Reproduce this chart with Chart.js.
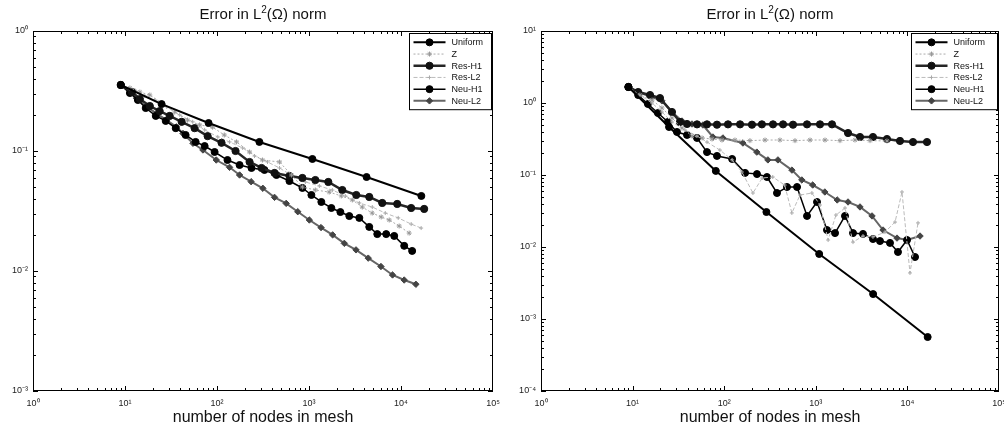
<!DOCTYPE html>
<html><head><meta charset="utf-8">
<script src="https://cdn.jsdelivr.net/npm/chart.js@4.4.0/dist/chart.umd.min.js"></script>
<style>
html,body{margin:0;padding:0;background:#fff;overflow:hidden;width:1004px;height:434px;}
.wrap{position:absolute;top:0;width:502px;height:434px;}
.title{position:absolute;top:5px;font:15px "Liberation Sans",Arial,sans-serif;line-height:17px;color:#111;white-space:nowrap;transform:translateX(-50%);}
.title sup{font-size:10px;line-height:0;vertical-align:6px;}
</style></head><body>
<div class="wrap" style="left:0"><canvas id="c1" width="502" height="434"></canvas></div>
<div class="wrap" style="left:502px"><canvas id="c2" width="502" height="434"></canvas></div>
<div class="title" style="left:263px">Error in L<sup>2</sup>(Ω) norm</div>
<div class="title" style="left:770px">Error in L<sup>2</sup>(Ω) norm</div>
<script>
// ---------- data ----------
const seriesNames = ['Uniform','Z','Res-H1','Res-L2','Neu-H1','Neu-L2'];
const xTickValues = [1,10,100,1000,10000,100000];
const leftYTickValues = [0.001,0.01,0.1,1];
const rightYTickValues = [0.0001,0.001,0.01,0.1,1,10];

const uniformNodes = [9,25,81,289,1089,4225,16641];
const leftUniformErr = [0.355,0.246,0.171,0.119,0.0858,0.0607,0.0422];
const rightUniformErr = [1.67,0.464,0.114,0.0306,0.0080,0.00222,0.000562];

// left panel
const leftZNodes = [9,11.3,14.5,18.6,25.1,34.7,47.8,64.7,89.5,120,163,226,312,478,646,848,1172,1658,2245,2957,3795,4866,6095,7447,9550,12270];
const leftZErr = [0.355,0.335,0.310,0.293,0.251,0.211,0.181,0.165,0.158,0.136,0.119,0.0981,0.0841,0.0810,0.0631,0.0501,0.0473,0.0455,0.0422,0.0391,0.0341,0.0304,0.0282,0.0266,0.0237,0.0207];
const leftResH1Nodes = [9,11.9,14.5,18.6,23.8,30.6,41.3,57.1,79.1,112,159,226,305,422,613,848,1172,1622,2302,3266,4519,6252,9095,12900,17860];
const leftResH1Err = [0.355,0.310,0.271,0.237,0.215,0.196,0.175,0.155,0.133,0.117,0.100,0.0810,0.0722,0.0656,0.0619,0.0596,0.0573,0.0552,0.0473,0.0430,0.0414,0.0369,0.0362,0.0335,0.0329];
const leftResL2Nodes = [9,12.8,16.4,21.1,28.4,39.3,54.4,73.4,102,137,190,256,354,478,661,914,1297,1794,2483,3524,4875,6745,9330,12900,16560];
const leftResL2Err = [0.355,0.322,0.287,0.266,0.233,0.200,0.175,0.150,0.131,0.119,0.106,0.0908,0.0810,0.0722,0.0619,0.0552,0.0511,0.0473,0.0422,0.0369,0.0341,0.0304,0.0277,0.0246,0.0228];
const leftNeuH1Nodes = [9,11.3,13.8,16.8,21.6,27.7,35.6,45.6,58.6,73.4,94.2,130,176,237,328,443,613,848,1062,1362,1750,2193,2742,3524,4519,5521,6905,8440,10840,13220];
const leftNeuH1Err = [0.355,0.304,0.266,0.228,0.196,0.178,0.155,0.136,0.119,0.110,0.0981,0.0841,0.0764,0.0722,0.0695,0.0631,0.0562,0.0492,0.0430,0.0376,0.0335,0.0310,0.0287,0.0277,0.0233,0.0203,0.0203,0.0196,0.0162,0.0147];
const leftNeuL2Nodes = [9,13.3,17.1,22.0,28.2,36.2,42.7,54.8,70.3,98.2,137,176,235,315,422,565,755,1009,1352,1807,2421,3243,4406,6053,8091,10830,14510];
const leftNeuL2Err = [0.355,0.275,0.234,0.206,0.181,0.159,0.140,0.116,0.102,0.0841,0.0731,0.0631,0.0555,0.0489,0.0411,0.0366,0.0312,0.0266,0.0230,0.0200,0.0170,0.0150,0.0128,0.0109,0.00927,0.00841,0.00775];

// right panel
const rightZNodes = [9,12.0,16.3,20.9,26.9,34.6,44.5,57.3,73.6,94.6,131,191,279,406,593,865,1260,1837,2679,3908,5984];
const rightZErr = [1.67,1.29,1.10,0.853,0.619,0.450,0.348,0.327,0.316,0.306,0.306,0.300,0.306,0.306,0.300,0.306,0.306,0.300,0.306,0.300,0.297];
const rightResH1Nodes = [9,11.5,15.5,19.9,26.9,32.9,39.3,50.5,64.9,83.4,110,149,201,258,341,439,564,802,1111,1503,2248,3036,4209,5984,8299,11510,16360];
const rightResH1Err = [1.67,1.42,1.29,1.17,0.750,0.545,0.511,0.505,0.505,0.50,0.505,0.505,0.50,0.505,0.505,0.505,0.50,0.505,0.505,0.505,0.383,0.337,0.337,0.316,0.297,0.287,0.287];
const rightResL2Nodes = [9,12.0,16.3,20.9,26.9,37.2,50.5,64.9,89.8,122,156,206,260,339,457,548,673,907,1111,1363,1660,2084,2548,3275,4209,5690,7330,8730,10670,13060];
const rightResL2Err = [1.67,1.29,1.0,0.750,0.545,0.422,0.348,0.287,0.222,0.162,0.110,0.0562,0.0908,0.0938,0.0726,0.0297,0.0527,0.0562,0.0383,0.0125,0.0278,0.0348,0.0117,0.0142,0.0138,0.0161,0.0222,0.0581,0.00436,0.0216];
const rightNeuH1Nodes = [9,11.5,14.7,18.9,24.3,30.5,39.3,50.5,64.9,83.4,122,169,228,293,377,485,624,802,1031,1325,1622,2084,2548,3275,4209,5020,6457,7890,9910,12110];
const rightNeuH1Err = [1.67,1.29,0.969,0.726,0.545,0.396,0.360,0.327,0.208,0.184,0.167,0.107,0.103,0.0938,0.0562,0.0681,0.0681,0.0270,0.0422,0.0172,0.0156,0.0270,0.0156,0.0152,0.0129,0.0121,0.0114,0.00853,0.0125,0.00726];
const rightNeuL2Nodes = [9,12.0,16.3,20.9,26.9,34.6,44.5,58.6,75.3,96.8,160,227,300,386,549,704,925,1255,1713,2248,3036,4110,5420,7700,9900,13740];
const rightNeuL2Err = [1.67,1.38,1.21,1.07,0.750,0.562,0.511,0.495,0.337,0.327,0.278,0.208,0.162,0.162,0.117,0.0853,0.0726,0.0581,0.0450,0.0422,0.0360,0.0270,0.0172,0.0133,0.0125,0.0142];

// ---------- styling / chart construction ----------
Chart.defaults.font.family = '"Liberation Sans", Arial, sans-serif';
Chart.defaults.color = '#222';

const styles = [
  {borderColor:'#000', borderWidth:2, pointStyle:'circle', pointRadius:3.5, pointBackgroundColor:'#000', pointBorderColor:'#000', pointBorderWidth:1},
  {borderColor:'#aaa', borderWidth:1, borderDash:[2,2], pointStyle:'star', pointRadius:2.5, pointBackgroundColor:'#999', pointBorderColor:'#999', pointBorderWidth:1},
  {borderColor:'#262626', borderWidth:2.5, pointStyle:'circle', pointRadius:3.6, pointBackgroundColor:'#111', pointBorderColor:'#111', pointBorderWidth:1},
  {borderColor:'#bbb', borderWidth:1, borderDash:[4,2], pointStyle:'cross', pointRadius:2, pointBackgroundColor:'#aaa', pointBorderColor:'#aaa', pointBorderWidth:1},
  {borderColor:'#000', borderWidth:1.5, pointStyle:'circle', pointRadius:3.5, pointBackgroundColor:'#000', pointBorderColor:'#000', pointBorderWidth:1},
  {borderColor:'#666', borderWidth:2, pointStyle:'rectRot', pointRadius:3.2, pointBackgroundColor:'#444', pointBorderColor:'#444', pointBorderWidth:1}
];

function zip(xs, ys){ return xs.map((x,i)=>({x:x, y:ys[i]})); }
function makeDatasets(pairs){
  return pairs.map((p,i)=>Object.assign({label:seriesNames[i], data:zip(p[0],p[1]), tension:0, fill:false}, styles[i]));
}

const supMap = {'0':'⁰','1':'¹','2':'²','3':'³','4':'⁴','5':'⁵','6':'⁶','7':'⁷','8':'⁸','9':'⁹','-':'⁻'};
function fmt(v){ const e = Math.round(Math.log10(v)); return '10' + String(e).split('').map(c=>supMap[c]).join(''); }

const boxPlugin = {
  id:'box',
  beforeDatasetsDraw(chart){
    const {ctx, chartArea:a, scales} = chart;
    ctx.save();
    ctx.strokeStyle = '#000'; ctx.lineWidth = 1;
    ctx.strokeRect(Math.round(a.left)+0.5, Math.round(a.top)+0.5, Math.round(a.right-a.left)-1, Math.round(a.bottom-a.top)-1);
    const xs = scales.x, ys = scales.y;
    ctx.beginPath();
    for (let k = Math.round(Math.log10(xs.min)); k < Math.round(Math.log10(xs.max)); k++){
      for (let m = 1; m <= 9; m++){
        const v = m*Math.pow(10,k);
        const px = Math.round(xs.getPixelForValue(v))+0.5;
        const len = m===1 ? 5 : 3;
        ctx.moveTo(px, a.bottom); ctx.lineTo(px, a.bottom-len);
        ctx.moveTo(px, a.top); ctx.lineTo(px, a.top+len);
      }
    }
    for (let k = Math.round(Math.log10(ys.min)); k < Math.round(Math.log10(ys.max)); k++){
      for (let m = 1; m <= 9; m++){
        const v = m*Math.pow(10,k);
        const py = Math.round(ys.getPixelForValue(v))+0.5;
        const len = m===1 ? 5 : 3;
        ctx.moveTo(a.left, py); ctx.lineTo(a.left+len, py);
        ctx.moveTo(a.right, py); ctx.lineTo(a.right-len, py);
      }
    }
    ctx.stroke();
    ctx.restore();
  },
  afterDraw(chart){
    const {ctx, chartArea:a} = chart;
    const w = chart.options.plugins.box.legendWidth;
    const rowH = 11.7, h = rowH*6 + 6;
    const x0 = Math.round(a.right - w) + 0.5, y0 = Math.round(a.top + 2) + 0.5;
    ctx.save();
    ctx.fillStyle = '#fff'; ctx.fillRect(x0, y0, w-2, h);
    ctx.strokeStyle = '#000'; ctx.lineWidth = 1; ctx.strokeRect(x0, y0, w-2, h);
    ctx.font = '9px "Liberation Sans", Arial, sans-serif';
    ctx.textBaseline = 'middle';
    chart.data.datasets.forEach((ds,i)=>{
      const y = y0 + 3 + rowH*(i+0.5);
      ctx.strokeStyle = ds.borderColor; ctx.lineWidth = ds.borderWidth;
      ctx.setLineDash(ds.borderDash || []);
      ctx.beginPath(); ctx.moveTo(x0+4, y); ctx.lineTo(x0+36, y); ctx.stroke();
      ctx.setLineDash([]);
      ctx.fillStyle = ds.pointBackgroundColor; ctx.strokeStyle = ds.pointBorderColor; ctx.lineWidth = ds.pointBorderWidth;
      Chart.helpers.drawPoint(ctx, {pointStyle:ds.pointStyle, radius:ds.pointRadius, rotation:0, borderWidth:ds.pointBorderWidth}, x0+20, y);
      ctx.fillStyle = '#111';
      ctx.fillText(ds.label, x0+42, y+0.5);
    });
    ctx.restore();
  }
};

function makeChart(id, datasets, yMin, yMax, yTicks, yWidth, padRight, legendWidth){
  return new Chart(document.getElementById(id), {
    type:'line',
    data:{datasets:datasets},
    options:{
      responsive:false, animation:false, devicePixelRatio:1,
      layout:{padding:{top:31, right:padRight, left:0, bottom:0}},
      plugins:{legend:{display:false}, tooltip:{enabled:false}, box:{legendWidth:legendWidth}},
      scales:{
        x:{type:'logarithmic', position:'bottom', min:1, max:100000,
          grid:{display:false, drawTicks:false}, border:{display:false},
          afterBuildTicks:s=>{ s.ticks = xTickValues.map(v=>({value:v})); },
          afterFit:s=>{ s.height = 43; s.paddingLeft = 0; s.paddingRight = 0; },
          ticks:{autoSkip:false, maxRotation:0, padding:7, font:{size:9}, color:'#222', callback:v=>fmt(v)},
          title:{display:true, text:'number of nodes in mesh', font:{size:16}, color:'#111', padding:{top:0, bottom:7}}
        },
        y:{type:'logarithmic', position:'left', min:yMin, max:yMax,
          grid:{display:false, drawTicks:false}, border:{display:false},
          afterBuildTicks:s=>{ s.ticks = yTicks.map(v=>({value:v})); },
          afterFit:s=>{ s.width = yWidth; s.paddingTop = 0; s.paddingBottom = 0; },
          ticks:{autoSkip:false, padding:5, font:{size:9}, color:'#222', callback:v=>fmt(v)}
        }
      }
    },
    plugins:[boxPlugin]
  });
}

makeChart('c1', makeDatasets([
  [uniformNodes, leftUniformErr],
  [leftZNodes, leftZErr],
  [leftResH1Nodes, leftResH1Err],
  [leftResL2Nodes, leftResL2Err],
  [leftNeuH1Nodes, leftNeuH1Err],
  [leftNeuL2Nodes, leftNeuL2Err]
]), 0.001, 1, leftYTickValues, 33, 9, 84);

makeChart('c2', makeDatasets([
  [uniformNodes, rightUniformErr],
  [rightZNodes, rightZErr],
  [rightResH1Nodes, rightResH1Err],
  [rightResL2Nodes, rightResL2Err],
  [rightNeuH1Nodes, rightNeuH1Err],
  [rightNeuL2Nodes, rightNeuL2Err]
]), 0.0001, 10, rightYTickValues, 39, 5, 88);
</script>
</body></html>
